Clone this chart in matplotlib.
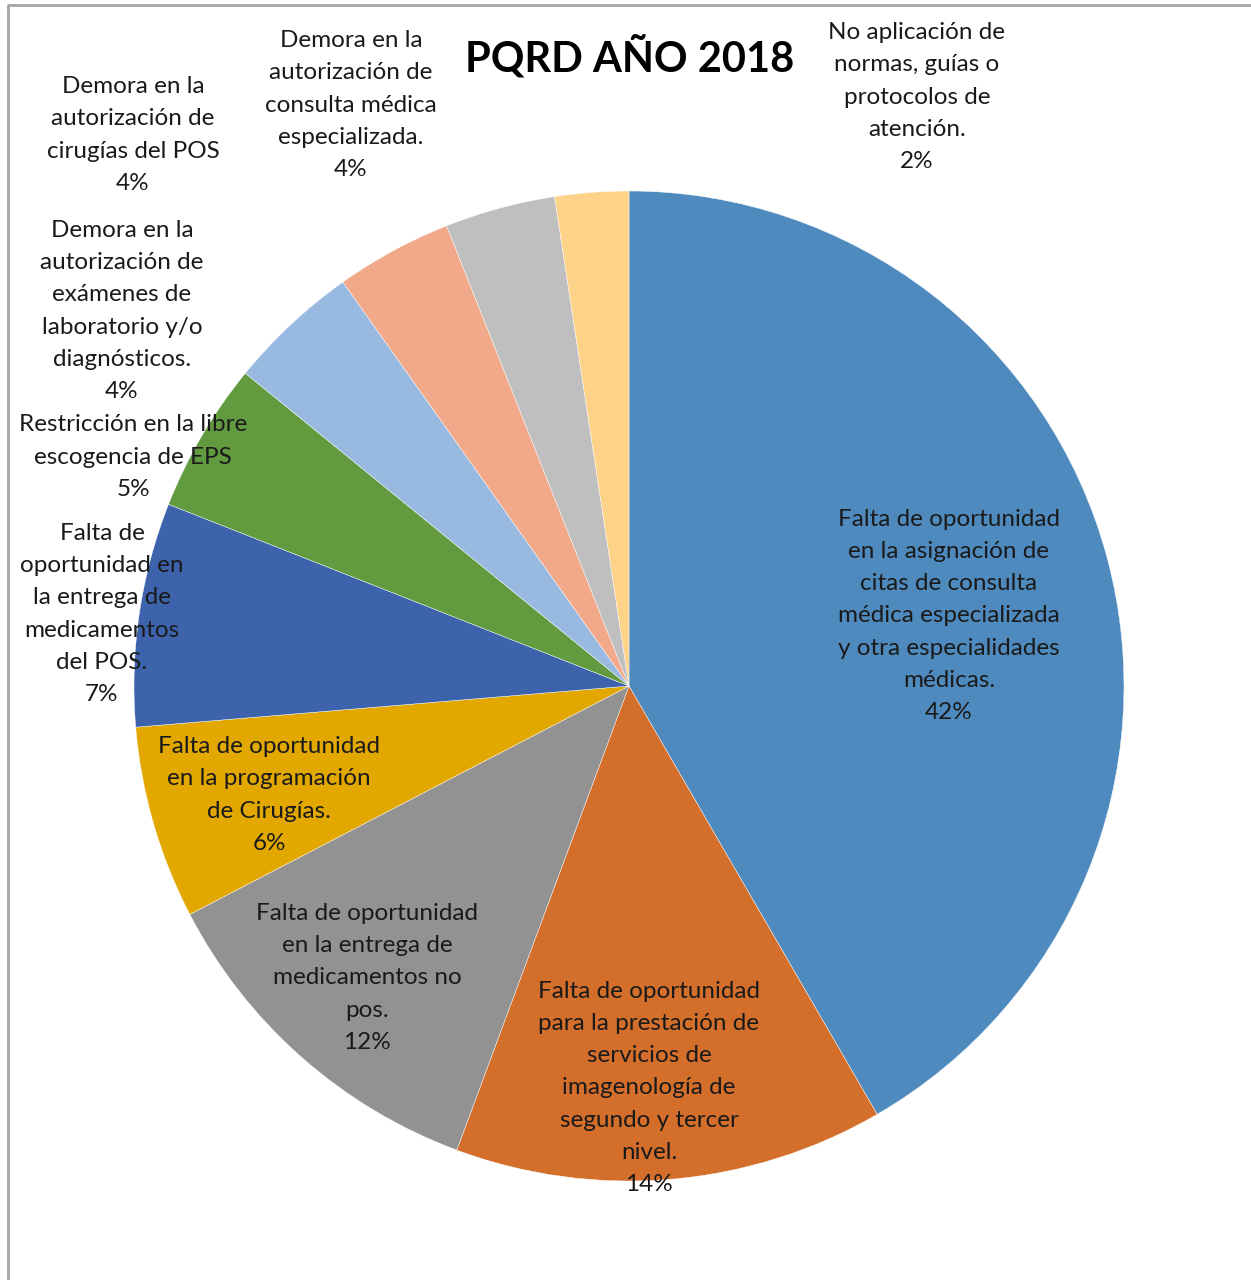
import matplotlib
matplotlib.use("Agg")
import matplotlib.pyplot as plt

W, H = 1251, 1280

# slices clockwise from 12 o'clock
labels = [
    "Falta de oportunidad\nen la asignación de\ncitas de consulta\nmédica especializada\ny otra especialidades\nmédicas.",
    "Falta de oportunidad\npara la prestación de\nservicios de\nimagenología de\nsegundo y tercer\nnivel.",
    "Falta de oportunidad\nen la entrega de\nmedicamentos no\npos.",
    "Falta de oportunidad\nen la programación\nde Cirugías.",
    "Falta de\noportunidad en\nla entrega de\nmedicamentos\ndel POS.",
    "Restricción en la libre\nescogencia de EPS",
    "Demora en la\nautorización de\nexámenes de\nlaboratorio y/o\ndiagnósticos.",
    "Demora en la\nautorización de\ncirugías del POS",
    "Demora en la\nautorización de\nconsulta médica\nespecializada.",
    "No aplicación de\nnormas, guías o\nprotocolos de\natención.",
]
values = [41.6, 14.0, 11.7, 6.3, 7.3, 4.9, 4.3, 3.8, 3.6, 2.4]
colors = ["#4F8ABE", "#D46E2B", "#929292", "#E2A800", "#3C63AC",
          "#629A3F", "#98B9E0", "#F1A98A", "#BFBFBF", "#FFD28A"]

# label block centres in pixel coords (layout only)
label_pos = [(949, 616), (649, 1088), (367, 978), (269, 795), (102, 614),
             (133, 457), (122, 311), (133, 135), (351, 105), (917, 97)]

plt.rcParams["font.family"] = ["Lato", "DejaVu Sans"]

fig = plt.figure(figsize=(W / 100, H / 100), dpi=100)
ax = fig.add_axes([0, 0, 1, 1])
ax.set_xlim(0, W)
ax.set_ylim(0, H)
ax.set_aspect("equal")
ax.axis("off")

ax.pie(values, colors=colors, startangle=90, counterclock=False,
       center=(629, H - 686), radius=495,
       wedgeprops=dict(edgecolor="white", linewidth=0.3))
ax.set_xlim(0, W)
ax.set_ylim(0, H)

total = sum(values)
for lab, v, (px, py) in zip(labels, values, label_pos):
    txt = f"{lab}\n{round(v / total * 100):.0f}%"
    ax.text(px, H - py, txt, ha="center", va="center", fontsize=17.5,
            linespacing=1.65, color="#1a1a1a")

ax.text(630, H - 57, "PQRD AÑO 2018", ha="center", va="center",
        fontsize=30, fontweight="bold", color="black")

# chart area border (left and top visible)
ax.plot([8, 8, W], [0, H - 5, H - 5], color="#A6A6A6", lw=2, clip_on=False)

fig.savefig("out.png", dpi=100)
